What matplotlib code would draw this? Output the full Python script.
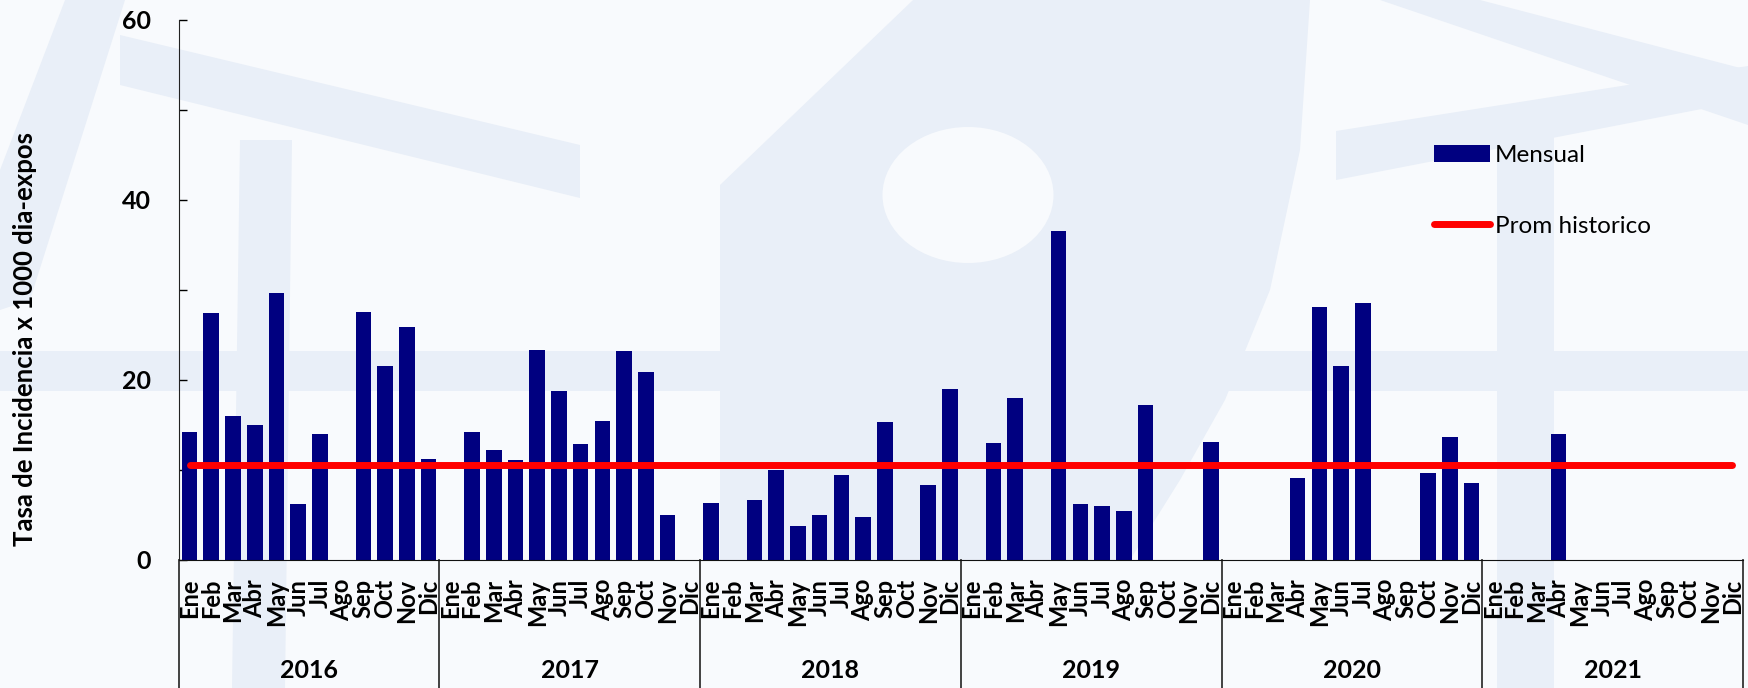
import numpy as np
import matplotlib.pyplot as plt
from matplotlib.patches import Patch, Polygon, Ellipse, Rectangle
from matplotlib.lines import Line2D

plt.rcParams['font.family'] = ['Lato', 'DejaVu Sans']

# data
years = ['2016', '2017', '2018', '2019', '2020', '2021']
months = ['Ene', 'Feb', 'Mar', 'Abr', 'May', 'Jun',
          'Jul', 'Ago', 'Sep', 'Oct', 'Nov', 'Dic']
rate_2016 = [14.2, 27.4, 15.9, 14.9, 29.6, 6.2, 14.0, 0, 27.5, 21.5, 25.8, 11.2]
rate_2017 = [0, 14.2, 12.2, 11.1, 23.3, 18.7, 12.8, 15.4, 23.2, 20.8, 5.0, 0]
rate_2018 = [6.3, 0, 6.6, 10.0, 3.7, 4.9, 9.4, 4.7, 15.3, 0, 8.3, 18.9]
rate_2019 = [0, 13.0, 18.0, 0, 36.5, 6.2, 5.9, 5.4, 17.2, 0, 0, 13.1]
rate_2020 = [0, 0, 0, 9.1, 28.1, 21.5, 28.5, 0, 0, 9.6, 13.6, 8.5]
rate_2021 = [0, 0, 0, 14.0, 0, 0, 0, 0, 0, 0, 0, 0]
prom_historico = 10.5

mensual = rate_2016 + rate_2017 + rate_2018 + rate_2019 + rate_2020 + rate_2021
n = len(mensual)
x = np.arange(n)

W, H = 1748, 688
bg = '#f8fafd'
wm = '#e9eff8'

fig = plt.figure(figsize=(W / 100, H / 100), dpi=100, facecolor=bg)


def fpts(pts):
    # pixel coords (y down) -> figure fraction
    return [(px / W, 1 - py / H) for px, py in pts]


# faint watermark behind the chart
shapes = [
    [(0, 351), (W, 351), (W, 391), (0, 391)],
    [(913, 0), (1310, 0), (1300, 150), (1270, 290), (1225, 400),
     (1180, 480), (1130, 560), (720, 560), (720, 185)],
    [(65, 0), (125, 0), (30, 300), (0, 310), (0, 170)],
    [(120, 35), (580, 145), (580, 198), (120, 85)],
    [(240, 140), (292, 140), (285, 688), (232, 688)],
    [(1497, 110), (1554, 110), (1554, 688), (1497, 688)],
    [(1336, 131), (W, 66), (W, 100), (1336, 180)],
    [(1380, 0), (1480, 0), (W, 70), (W, 125)],
]
for pts in shapes:
    fig.add_artist(Polygon(fpts(pts), closed=True, facecolor=wm,
                           edgecolor='none', transform=fig.transFigure,
                           zorder=0))
fig.add_artist(Ellipse((968 / W, 1 - 195 / H), 171 / W, 136 / H, angle=0,
                       facecolor=bg, edgecolor='none',
                       transform=fig.transFigure, zorder=0))

ax = fig.add_axes([178.7 / W, 1 - 559.5 / H, 1564.3 / W, 539.8 / H])
ax.set_facecolor('none')

ax.bar(x, mensual, width=0.72, color='#000080', zorder=2)
ax.plot(x, [prom_historico] * n, color='#ff0000', lw=5,
        solid_capstyle='round', zorder=3)

ax.set_xlim(-0.5, n - 0.5)
ax.set_ylim(0, 60)
ax.set_yticks([0, 20, 40, 60])
ax.set_yticks([10, 30, 50], minor=True)
ax.tick_params(axis='y', which='both', direction='in', length=6,
               width=1, labelsize=18, pad=20)
for t in ax.get_yticklabels():
    t.set_fontweight('bold')

ax.set_xticks(x)
ax.set_xticklabels(months * len(years), rotation=90, fontsize=17,
                   fontweight='bold', va='top')
ax.tick_params(axis='x', length=0, pad=14)

for s in ['top', 'right']:
    ax.spines[s].set_visible(False)
ax.spines['left'].set_color('#222222')
ax.spines['bottom'].set_color('#111111')

# year separators and year labels
tr = ax.get_xaxis_transform()
for k in range(len(years) + 1):
    xb = 12 * k - 0.5
    ax.plot([xb, xb], [0, -0.24], transform=tr, color='#333333', lw=1.3,
            clip_on=False)
for k, yr in enumerate(years):
    ax.text(12 * k + 5.5, -(671 - 559.5) / 539.8, yr, transform=tr,
            ha='center', va='center', fontsize=18, fontweight='bold')

fig.text(25 / W, 1 - 339 / H, 'Tasa de Incidencia x 1000 dia-expos',
         rotation=90, ha='center', va='center', fontsize=18.5,
         fontweight='bold')

handles = [Patch(facecolor='#000080', edgecolor='none'),
           Line2D([0], [0], color='#ff0000', lw=5, solid_capstyle='round')]
fig.legend(handles, ['Mensual', 'Prom historico'], loc='upper left',
           bbox_to_anchor=(1434 / W, 1 - 145 / H), frameon=False,
           fontsize=17.5, handlelength=2.3, handletextpad=0.2,
           labelspacing=2.05, borderpad=0, borderaxespad=0)

fig.savefig('out.png', dpi=100, facecolor=fig.get_facecolor())
